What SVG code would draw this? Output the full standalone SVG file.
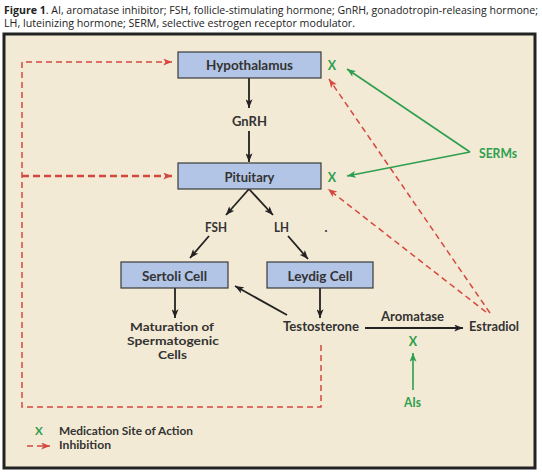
<svg xmlns="http://www.w3.org/2000/svg" width="542" height="476" viewBox="0 0 542 476">
<defs>
<style>
.t{font-family:Lato,"Open Sans","Liberation Sans",sans-serif;font-weight:bold;font-size:12.5px;fill:#333;text-anchor:middle}
.s{font-size:11.6px}
.l{text-anchor:start}
.cap{font-family:"Open Sans","Liberation Sans",sans-serif;font-size:10px;fill:#222}
.g{fill:#2e9e4f}
.box{fill:#b3c5e6;stroke:#3a3a3a;stroke-width:1.2}
.blk{fill:none;stroke:#222;stroke-width:1.8}
.red{fill:none;stroke:#d4483f;stroke-width:1.5;stroke-dasharray:6 4}
.redt{fill:none;stroke:#d4483f;stroke-width:2.5;stroke-dasharray:7 4}
.grn{fill:none;stroke:#2e9e4f;stroke-width:1.6}
</style>
<marker id="ab" viewBox="0 0 10 8" markerWidth="9" markerHeight="7" refX="10" refY="4" orient="auto" markerUnits="userSpaceOnUse"><path d="M0,0 L10,4 L0,8 L2.5,4 z" fill="#222"/></marker>
<marker id="ar" viewBox="0 0 10 8" markerWidth="9" markerHeight="7" refX="10" refY="4" orient="auto" markerUnits="userSpaceOnUse"><path d="M0,0 L10,4 L0,8 L2.5,4 z" fill="#d4483f"/></marker>
<marker id="ag" viewBox="0 0 10 8" markerWidth="9" markerHeight="7" refX="10" refY="4" orient="auto" markerUnits="userSpaceOnUse"><path d="M0,0 L10,4 L0,8 L2.5,4 z" fill="#2e9e4f"/></marker>
</defs>
<rect x="0" y="0" width="542" height="476" fill="#ffffff"/>
<g id="caption">
<text class="cap" x="4" y="14" textLength="534" lengthAdjust="spacingAndGlyphs"><tspan font-weight="bold">Figure 1</tspan>. AI, aromatase inhibitor; FSH, follicle-stimulating hormone; GnRH, gonadotropin-releasing hormone;</text>
<text class="cap" x="4" y="27" textLength="351" lengthAdjust="spacingAndGlyphs">LH, luteinizing hormone; SERM, selective estrogen receptor modulator.</text>
</g>
<rect id="frame" x="4" y="34" width="531" height="434" fill="#f3ead5" stroke="#222" stroke-width="3"/>
<g id="connectors">
<path class="blk" d="M249,78 V108" marker-end="url(#ab)"/>
<path class="blk" d="M249,131 V162" marker-end="url(#ab)"/>
<path class="blk" d="M249,189 L226,215" marker-end="url(#ab)"/>
<path class="blk" d="M249,189 L273,215" marker-end="url(#ab)"/>
<path class="blk" d="M209,236 L190,258" marker-end="url(#ab)"/>
<path class="blk" d="M288,236 L308,259" marker-end="url(#ab)"/>
<path class="blk" d="M320,288 V318" marker-end="url(#ab)"/>
<path class="blk" d="M175,288 V318" marker-end="url(#ab)"/>
<path class="blk" d="M287,315 L235,286" stroke-width="1.4" marker-end="url(#ab)"/>
<path class="blk" d="M365,328 H463" stroke-width="1.5" marker-end="url(#ab)"/>
<path class="red" d="M321,345 V407 H22 V62 H172" marker-end="url(#ar)"/>
<path class="redt" d="M22,176 H172" marker-end="url(#ar)"/>
<path class="red" d="M490,313 L329,79" marker-end="url(#ar)"/>
<path class="red" d="M486,312 L328,189" marker-end="url(#ar)"/>
<path class="grn" d="M470,152 L347,69" marker-end="url(#ag)"/>
<path class="grn" d="M470,152 L347,176" marker-end="url(#ag)"/>
<path class="grn" d="M413,390 V353" stroke-width="2" marker-end="url(#ag)"/>
</g>
<g id="hypothalamus">
<rect class="box" x="178" y="52" width="143" height="26"/>
<text class="t" x="249.5" y="70" textLength="87" lengthAdjust="spacingAndGlyphs">Hypothalamus</text>
</g>
<g id="gnrh"><text class="t" x="249.5" y="126" textLength="35" lengthAdjust="spacingAndGlyphs">GnRH</text></g>
<g id="pituitary">
<rect class="box" x="178" y="163" width="143" height="26"/>
<text class="t" x="249.5" y="182" textLength="50" lengthAdjust="spacingAndGlyphs">Pituitary</text>
</g>
<g id="fsh"><text class="t" x="216" y="232" textLength="22" lengthAdjust="spacingAndGlyphs">FSH</text></g>
<g id="lh"><text class="t" x="281.5" y="232" textLength="15" lengthAdjust="spacingAndGlyphs">LH</text></g>
<g id="dot"><text class="t" x="326" y="232">.</text></g>
<g id="sertoli">
<rect class="box" x="121" y="262" width="107" height="26"/>
<text class="t" x="174.5" y="281" textLength="65" lengthAdjust="spacingAndGlyphs">Sertoli Cell</text>
</g>
<g id="leydig">
<rect class="box" x="267" y="262" width="106" height="26"/>
<text class="t" x="320" y="281" textLength="65" lengthAdjust="spacingAndGlyphs">Leydig Cell</text>
</g>
<g id="maturation">
<text class="t s" x="172" y="331" textLength="84" lengthAdjust="spacingAndGlyphs">Maturation of</text>
<text class="t s" x="173" y="345" textLength="92" lengthAdjust="spacingAndGlyphs">Spermatogenic</text>
<text class="t s" x="172.5" y="359" textLength="29" lengthAdjust="spacingAndGlyphs">Cells</text>
</g>
<g id="testosterone"><text class="t" x="321" y="331" textLength="76" lengthAdjust="spacingAndGlyphs">Testosterone</text></g>
<g id="aromatase"><text class="t" x="412.5" y="321" textLength="63" lengthAdjust="spacingAndGlyphs">Aromatase</text></g>
<g id="estradiol"><text class="t" x="494" y="331" textLength="50" lengthAdjust="spacingAndGlyphs">Estradiol</text></g>
<g id="serms"><text class="t g" x="498" y="158" textLength="38" lengthAdjust="spacingAndGlyphs">SERMs</text></g>
<g id="ais"><text class="t g" x="412.5" y="407" textLength="17" lengthAdjust="spacingAndGlyphs">AIs</text></g>
<g id="x-marks">
<text class="t g" x="332" y="70">X</text>
<text class="t g" x="332" y="182">X</text>
<text class="t g" x="413" y="346">X</text>
</g>
<g id="legend">
<text class="t s g" x="39" y="435">X</text>
<text class="t s l" x="59" y="435" textLength="134" lengthAdjust="spacingAndGlyphs">Medication Site of Action</text>
<path class="red" d="M27,446 H50" stroke-dasharray="5 3" marker-end="url(#ar)"/>
<text class="t s l" x="59" y="449" textLength="52" lengthAdjust="spacingAndGlyphs">Inhibition</text>
</g>
</svg>
